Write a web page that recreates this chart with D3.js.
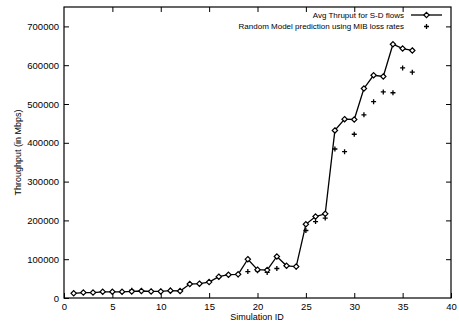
<!DOCTYPE html>
<html>
<head>
<meta charset="utf-8">
<script src="https://cdn.jsdelivr.net/npm/d3@7/dist/d3.min.js"></script>
<style>
  html, body { margin: 0; padding: 0; background: #fff; }
  svg { display: block; }
  text { font-family: "Liberation Sans", Arial, Helvetica, sans-serif; fill: #000; }
</style>
</head>
<body>
<svg id="chart" width="459" height="322"></svg>
<script>
// Simulation runs and their throughput values (Mbps)
const simIds = d3.range(1, 37);
const avgThruput = [
  12000, 14000, 14000, 16000, 16000, 16000, 17000, 18000, 17000, 17000,
  19000, 18000, 36000, 37000, 41000, 55000, 60000, 61000, 100000, 73000,
  72000, 107000, 83000, 81000, 190000, 210000, 217000, 432000, 461000, 460000,
  540000, 574000, 571000, 654000, 643000, 638000
];
const modelPrediction = [
  12000, 14000, 14000, 16000, 16000, 16000, 20000, 18000, 17000, 17000,
  19000, 18000, 36000, 37000, 41000, 55000, 60000, 60000, 68000, 70000,
  66000, 76000, 83000, 80000, 174000, 197000, 206000, 384000, 377000, 422000,
  472000, 506000, 531000, 529000, 593000, 582000
];
const xTicks = [0, 5, 10, 15, 20, 25, 30, 35, 40];
const yTicks = [0, 100000, 200000, 300000, 400000, 500000, 600000, 700000];
const seriesNames = ["Avg Thruput for S-D flows", "Random Model prediction using MIB loss rates"];

const svg = d3.select("#chart");
const plot = { left: 64, right: 451, top: 7, bottom: 298 };

const x = d3.scaleLinear().domain([0, 40]).range([plot.left, plot.right]);
const y = d3.scaleLinear().domain([0, 750000]).range([plot.bottom, plot.top]);

const tickLen = 5;
const fontSize = 9.5;

// Axes with inward ticks on all four sides
const bottomAxis = d3.axisBottom(x).tickValues(xTicks).tickSize(-tickLen).tickPadding(5).tickFormat(d3.format("d"));
const topAxis = d3.axisTop(x).tickValues(xTicks.slice(1, -1)).tickSize(-tickLen).tickFormat("");
const leftAxis = d3.axisLeft(y).tickValues(yTicks).tickSize(-tickLen).tickPadding(5).tickFormat(d3.format("d"));
const rightAxis = d3.axisRight(y).tickValues(yTicks.slice(1)).tickSize(-tickLen).tickFormat("");

function styleAxis(g) {
  g.select(".domain").remove();
  g.selectAll(".tick line").attr("stroke", "#000").attr("stroke-width", 1);
  g.selectAll(".tick text").style("font-size", fontSize + "px").attr("fill", "#000");
}

svg.append("g").attr("transform", `translate(0,${plot.bottom})`).call(bottomAxis).call(styleAxis);
svg.append("g").attr("transform", `translate(0,${plot.top})`).call(topAxis).call(styleAxis);
svg.append("g").attr("transform", `translate(${plot.left},0)`).call(leftAxis).call(styleAxis);
svg.append("g").attr("transform", `translate(${plot.right},0)`).call(rightAxis).call(styleAxis);

// Plot frame
svg.append("rect")
  .attr("x", plot.left).attr("y", plot.top)
  .attr("width", plot.right - plot.left).attr("height", plot.bottom - plot.top)
  .attr("fill", "none").attr("stroke", "#000").attr("stroke-width", 1.2);

// Axis titles
svg.append("text")
  .attr("x", (plot.left + plot.right) / 2 - 0.5).attr("y", 320)
  .attr("text-anchor", "middle").style("font-size", "9px")
  .text("Simulation ID");
svg.append("text")
  .attr("transform", `translate(21,${(plot.top + plot.bottom) / 2}) rotate(-90)`)
  .attr("text-anchor", "middle").style("font-size", "9px")
  .text("Throughput (in Mbps)");

// Marker shapes
const diamondPath = d3.symbol().type(d3.symbolDiamond2).size(18);
function drawPlus(g, cx, cy, r) {
  g.append("path")
    .attr("d", `M${cx - r},${cy}H${cx + r}M${cx},${cy - r}V${cy + r}`)
    .attr("stroke", "#000").attr("stroke-width", 1.3).attr("fill", "none");
}

const avgData = simIds.map((id, i) => ({ id, v: avgThruput[i] }));
const modelData = simIds.map((id, i) => ({ id, v: modelPrediction[i] }));

// Model prediction points
const gModel = svg.append("g");
modelData.forEach(d => drawPlus(gModel, x(d.id), y(d.v), 2.5));

// Measured average throughput: line + open diamonds
const line = d3.line().x(d => x(d.id)).y(d => y(d.v));
svg.append("path").datum(avgData)
  .attr("d", line).attr("fill", "none").attr("stroke", "#000").attr("stroke-width", 1.3);
svg.append("g").selectAll("path").data(avgData).join("path")
  .attr("transform", d => `translate(${x(d.id)},${y(d.v)})`)
  .attr("d", diamondPath)
  .attr("fill", "#fff").attr("stroke", "#000").attr("stroke-width", 1.2);

// Legend
const legendTextX = 404;
const legendRows = [15, 26.5];
const lg = svg.append("g");
seriesNames.forEach((name, i) => {
  lg.append("text")
    .attr("x", legendTextX).attr("y", legendRows[i])
    .attr("dy", "0.35em").attr("text-anchor", "end")
    .style("font-size", "8px").text(name);
});
lg.append("line")
  .attr("x1", 411).attr("x2", 442).attr("y1", legendRows[0]).attr("y2", legendRows[0])
  .attr("stroke", "#000").attr("stroke-width", 1.3);
lg.append("path")
  .attr("transform", `translate(426.5,${legendRows[0]})`)
  .attr("d", diamondPath).attr("fill", "#fff").attr("stroke", "#000").attr("stroke-width", 1.2);
drawPlus(lg, 426.5, legendRows[1], 2.5);
</script>
</body>
</html>
